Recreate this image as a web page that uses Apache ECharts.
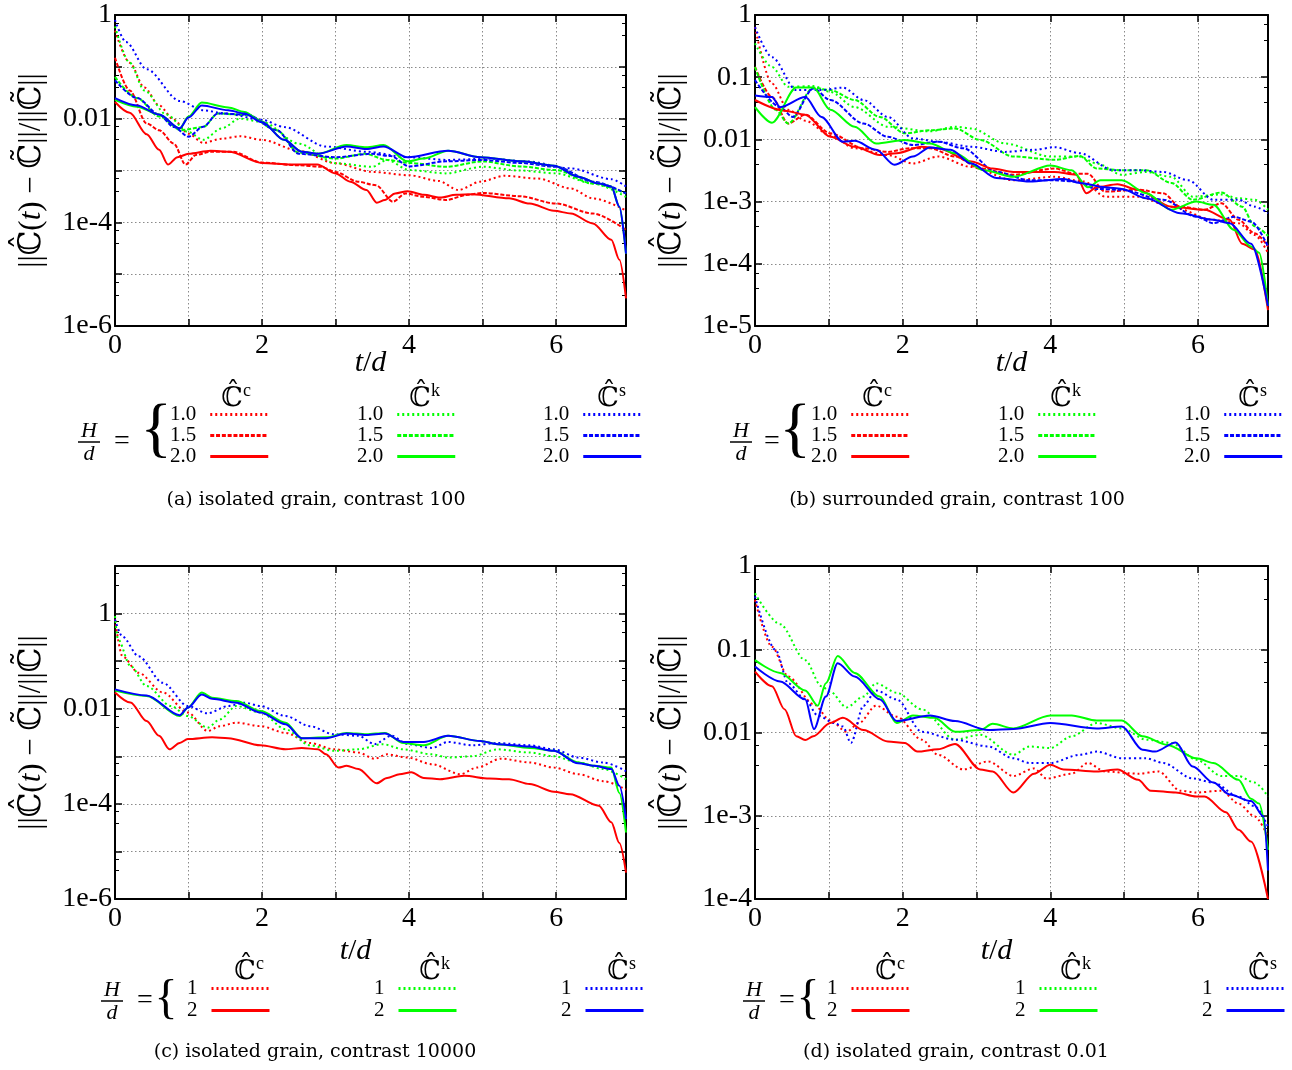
<!DOCTYPE html>
<html>
<head>
<meta charset="utf-8">
<script src="https://cdn.jsdelivr.net/npm/echarts@6/dist/echarts.min.js"></script>
<style>
html, body { margin: 0; padding: 0; background: #fff; }
#chart { width: 1292px; height: 1070px; }
</style>
</head>
<body>
<div id="chart"></div>
<script>
// ---- data: [t/d, relative error] ----
// (a) isolated grain, contrast 100
var a_c10 = [[0,0.5],[0.2,0.12],[0.4,0.04],[0.6,0.018],[0.8,0.0095],[1.0,0.0051],[1.2,0.0034],[1.45,0.0041],[1.7,0.0046],[2.0,0.0039],[2.5,0.0024],[3.0,0.00138],[3.5,9.4e-4],[4.0,8.1e-4],[4.4,6.3e-4],[4.67,4.2e-4],[4.97,6.1e-4],[5.3,7.9e-4],[5.75,7e-4],[6.2,4.5e-4],[6.5,2.9e-4],[6.95,1.7e-4]];
var a_c15 = [[0,0.15],[0.2,0.035],[0.43,0.0081],[0.6,0.006],[0.8,0.0033],[0.96,0.0013],[1.1,0.002],[1.3,0.0023],[1.6,0.0023],[2.0,0.00142],[2.5,0.00126],[2.8,0.00118],[3.0,9.4e-4],[3.3,6.1e-4],[3.55,5.2e-4],[3.78,2.5e-4],[3.95,3.6e-4],[4.2,3.1e-4],[4.5,2.7e-4],[4.8,3.4e-4],[5.0,3.7e-4],[5.5,3.2e-4],[6.0,2.3e-4],[6.5,1.48e-4],[6.95,7.1e-5]];
var a_c20 = [[0,0.021],[0.2,0.013],[0.43,0.005],[0.6,0.0025],[0.72,0.0013],[0.85,0.0018],[1.0,0.0021],[1.3,0.0024],[1.55,0.0023],[2.0,0.0014],[2.4,0.0013],[2.75,0.0013],[3.0,8.8e-4],[3.2,6.1e-4],[3.42,4.2e-4],[3.56,2.4e-4],[3.67,2.7e-4],[3.81,3.6e-4],[3.98,4.0e-4],[4.2,3.4e-4],[4.42,3.0e-4],[4.64,3.4e-4],[4.86,3.5e-4],[5.36,2.9e-4],[5.64,2.3e-4],[5.97,1.67e-4],[6.2,1.48e-4],[6.5,9.5e-5],[6.75,4.6e-5],[6.86,1.9e-5],[6.95,3.4e-6]];
var a_k10 = [[0,0.6],[0.2,0.12],[0.4,0.035],[0.7,0.012],[1.0,0.0055],[1.2,0.0039],[1.45,0.0065],[1.7,0.01],[2.0,0.0087],[2.5,0.0033],[3.0,0.00138],[3.5,0.00118],[3.7,0.0016],[4.0,0.00102],[4.5,8.8e-4],[5.0,0.00118],[5.5,0.001],[6.0,8.8e-4],[6.5,5.6e-4],[6.95,3.1e-4]];
var a_k15 = [[0,0.064],[0.3,0.025],[0.6,0.011],[0.9,0.006],[1.2,0.0069],[1.4,0.0126],[1.8,0.0117],[2.2,0.006],[2.5,0.0022],[3.0,0.0017],[3.4,0.0021],[3.7,0.0016],[4.0,0.0014],[4.5,0.00118],[5.0,0.0015],[5.5,0.0012],[6.0,0.00102],[6.5,5.6e-4],[6.95,3.6e-4]];
var a_k20 = [[0,0.023],[0.3,0.017],[0.6,0.012],[0.88,0.0065],[1.0,0.011],[1.18,0.0205],[1.54,0.0165],[1.76,0.0135],[2.0,0.0087],[2.3,0.0039],[2.54,0.0023],[2.76,0.0021],[3.15,0.0031],[3.42,0.0028],[3.65,0.0031],[3.98,0.0015],[4.2,0.0017],[4.53,0.0024],[4.97,0.0018],[5.53,0.0015],[5.97,0.00124],[6.3,7.6e-4],[6.58,5.6e-4],[6.75,4.9e-4],[6.86,2e-4],[6.95,2.5e-5]];
var a_s10 = [[0,0.8],[0.15,0.3],[0.43,0.09],[0.88,0.022],[1.2,0.0145],[1.5,0.0126],[2.0,0.0095],[2.3,0.0069],[2.87,0.0029],[3.42,0.0023],[3.98,0.0018],[4.53,0.0016],[5.08,0.0017],[5.6,0.0015],[6.2,0.0011],[6.75,6.8e-4],[6.95,4.9e-4]];
var a_s15 = [[0,0.055],[0.3,0.025],[0.6,0.012],[0.8,0.0069],[1.0,0.0045],[1.2,0.007],[1.4,0.0126],[1.8,0.012],[2.2,0.006],[2.5,0.0021],[3.0,0.0018],[3.5,0.0021],[3.75,0.0019],[4.0,0.0012],[4.5,0.0015],[5.0,0.0016],[5.5,0.0014],[6.0,0.00118],[6.5,6.1e-4],[6.95,3.6e-4]];
var a_s20 = [[0,0.025],[0.3,0.018],[0.6,0.012],[0.88,0.0065],[1.0,0.0105],[1.18,0.018],[1.54,0.0145],[1.76,0.0126],[2.0,0.0085],[2.3,0.0039],[2.54,0.0023],[2.76,0.0021],[3.15,0.0029],[3.42,0.0026],[3.65,0.0029],[3.98,0.0018],[4.53,0.0024],[4.97,0.0018],[5.53,0.0015],[5.97,0.00124],[6.3,7.6e-4],[6.58,5.6e-4],[6.75,4.9e-4],[6.86,2e-4],[6.95,2.5e-5]];

// (b) surrounded grain, contrast 100
var b_c10 = [[0,0.64],[0.23,0.079],[0.45,0.03],[0.68,0.02],[1.02,0.0117],[1.35,0.0072],[1.8,0.0056],[2.14,0.0041],[2.48,0.0053],[2.93,0.0036],[3.5,0.0022],[4.06,0.0025],[4.46,0.0021],[4.74,0.0012],[5.19,0.0012],[5.64,8.3e-4],[6.21,5.1e-4],[6.55,4.5e-4],[6.77,2.9e-4],[6.95,1.5e-4]];
var b_c15 = [[0,0.146],[0.23,0.048],[0.45,0.018],[0.68,0.025],[1.02,0.0125],[1.47,0.0072],[1.8,0.0063],[2.09,0.0072],[2.37,0.0072],[2.71,0.0053],[3.05,0.0034],[3.5,0.0027],[4.06,0.0034],[4.35,0.0028],[4.51,0.0028],[4.74,0.00145],[5.19,0.00155],[5.53,0.00136],[5.76,8.3e-4],[6.09,7.4e-4],[6.32,9.4e-4],[6.55,5.1e-4],[6.77,3.1e-4],[6.95,1.9e-4]];
var b_c20 = [[0,0.043],[0.4,0.029],[0.68,0.025],[1.02,0.011],[1.35,0.0076],[1.69,0.0056],[1.92,0.006],[2.26,0.0076],[2.48,0.0072],[2.93,0.0044],[3.22,0.0034],[3.5,0.003],[4.06,0.003],[4.35,0.0027],[4.49,0.00136],[4.63,0.0017],[4.91,0.0019],[5.19,0.00155],[5.64,8.3e-4],[6.09,7.4e-4],[6.43,5.1e-4],[6.6,2.1e-4],[6.77,1.7e-4],[6.95,1.8e-5]];
var b_k10 = [[0,0.35],[0.23,0.146],[0.45,0.07],[0.79,0.072],[1.02,0.058],[1.35,0.033],[1.8,0.016],[2.37,0.0135],[2.71,0.016],[2.93,0.015],[3.39,0.0086],[4.0,0.0053],[4.4,0.0053],[4.63,0.0041],[4.97,0.0027],[5.3,0.003],[5.64,0.0025],[5.93,0.0012],[6.32,0.0013],[6.55,0.00113],[6.77,0.00107],[6.95,7.4e-4]];
var b_k15 = [[0,0.146],[0.28,0.03],[0.45,0.018],[0.79,0.068],[1.02,0.062],[1.35,0.043],[1.69,0.023],[2.03,0.0125],[2.37,0.014],[2.71,0.015],[3.05,0.0098],[3.5,0.0053],[4.06,0.0047],[4.4,0.0054],[4.63,0.0034],[4.97,0.0032],[5.3,0.0032],[5.64,0.002],[5.93,0.00107],[6.32,0.0014],[6.6,8.3e-4],[6.77,4e-4],[6.95,2.8e-4]];
var b_k20 = [[0,0.033],[0.23,0.0186],[0.56,0.068],[0.79,0.068],[1.02,0.03],[1.35,0.016],[1.64,0.0086],[2.03,0.0098],[2.37,0.0086],[2.71,0.006],[3.1,0.0032],[3.5,0.0025],[4.0,0.0038],[4.29,0.0032],[4.51,0.0017],[4.68,0.0022],[4.97,0.0022],[5.3,0.00136],[5.64,7.4e-4],[5.98,0.001],[6.21,8.9e-4],[6.49,3.5e-4],[6.72,1.9e-4],[6.83,1.5e-4],[6.95,2.1e-5]];
var b_s10 = [[0,0.64],[0.23,0.21],[0.56,0.062],[0.9,0.062],[1.19,0.068],[1.47,0.043],[1.8,0.023],[2.14,0.0104],[2.48,0.0092],[2.93,0.0076],[3.39,0.0063],[3.78,0.0068],[4.06,0.0075],[4.4,0.006],[4.85,0.0032],[5.19,0.0032],[5.53,0.003],[5.87,0.0022],[6.21,0.00107],[6.55,0.00107],[6.77,8.3e-4],[6.95,6.5e-4]];
var b_s15 = [[0,0.09],[0.34,0.033],[0.51,0.023],[0.79,0.066],[1.02,0.043],[1.47,0.018],[1.8,0.011],[2.14,0.0081],[2.48,0.0092],[2.82,0.0072],[3.27,0.003],[3.72,0.0022],[4.06,0.0022],[4.35,0.0021],[4.63,0.0016],[4.97,0.00155],[5.53,0.00107],[5.98,5.7e-4],[6.21,4.5e-4],[6.49,5.7e-4],[6.72,4.8e-4],[6.95,1.9e-4]];
var b_s20 = [[0,0.051],[0.23,0.048],[0.34,0.033],[0.68,0.048],[0.9,0.023],[1.19,0.0092],[1.35,0.0095],[1.64,0.0068],[1.89,0.0039],[2.14,0.0053],[2.37,0.0074],[2.65,0.0068],[2.93,0.0041],[3.27,0.0024],[3.72,0.0021],[4.18,0.0023],[4.4,0.002],[4.74,0.0017],[4.97,0.0016],[5.3,0.00113],[5.76,6.5e-4],[6.21,5.1e-4],[6.43,4.5e-4],[6.72,2.1e-4],[6.95,2.1e-5]];

// (c) isolated grain, contrast 10000
var c_c1 = [[0,0.75],[0.1,0.127],[0.32,0.057],[0.65,0.022],[0.99,0.0083],[1.26,0.0034],[1.43,0.0043],[1.65,0.0051],[1.98,0.0043],[2.32,0.0031],[2.65,0.0019],[2.98,0.0014],[3.31,0.0012],[3.53,8.9e-4],[3.7,0.0011],[3.98,9.4e-4],[4.31,6.8e-4],[4.7,4.2e-4],[4.92,5.8e-4],[5.25,8.9e-4],[5.64,7.4e-4],[5.97,5.8e-4],[6.3,4.2e-4],[6.64,3.0e-4],[6.95,2.0e-4]];
var c_c2 = [[0,0.022],[0.21,0.0135],[0.43,0.0055],[0.6,0.0027],[0.74,0.0014],[0.88,0.0019],[0.99,0.0023],[1.32,0.0025],[1.54,0.0024],[1.98,0.0017],[2.32,0.0014],[2.54,0.0015],[2.76,0.0014],[2.87,0.0011],[3.04,5.8e-4],[3.15,6.3e-4],[3.31,5.4e-4],[3.56,2.7e-4],[3.7,3.5e-4],[3.87,4.2e-4],[4.03,4.6e-4],[4.2,3.5e-4],[4.42,3.3e-4],[4.75,3.9e-4],[5.09,3.4e-4],[5.36,3.3e-4],[5.64,2.6e-4],[5.97,1.8e-4],[6.19,1.6e-4],[6.58,9.1e-5],[6.75,4.1e-5],[6.86,1.5e-5],[6.95,3.6e-6]];
var c_k1 = [[0,0.88],[0.04,0.29],[0.21,0.079],[0.43,0.03],[0.76,0.0114],[0.99,0.007],[1.26,0.004],[1.43,0.006],[1.65,0.0114],[1.98,0.0083],[2.32,0.0037],[2.65,0.0017],[2.98,0.0013],[3.31,0.0014],[3.64,0.0018],[3.92,0.0014],[4.31,0.0011],[4.53,9.4e-4],[4.86,0.001],[5.2,0.0014],[5.64,0.0012],[5.97,0.001],[6.3,7.4e-4],[6.64,5.4e-4],[6.95,3.3e-4]];
var c_k2 = [[0,0.024],[0.43,0.0185],[0.88,0.007],[0.99,0.0105],[1.18,0.022],[1.32,0.017],[1.65,0.0145],[1.98,0.0089],[2.32,0.0051],[2.54,0.0024],[2.87,0.0025],[3.15,0.0031],[3.42,0.0029],[3.67,0.0031],[3.92,0.0019],[4.2,0.0017],[4.53,0.0027],[4.97,0.0021],[5.2,0.0018],[5.64,0.0015],[5.97,0.0013],[6.3,7.4e-4],[6.52,6.3e-4],[6.75,5.8e-4],[6.86,1.7e-4],[6.95,2.5e-5]];
var c_s1 = [[0,0.75],[0.1,0.33],[0.32,0.127],[0.65,0.035],[0.99,0.0114],[1.26,0.008],[1.54,0.0114],[1.76,0.0134],[1.98,0.0114],[2.32,0.007],[2.65,0.0043],[2.98,0.0029],[3.31,0.0027],[3.53,0.0018],[3.76,0.0027],[3.98,0.0018],[4.31,0.0015],[4.53,0.002],[4.86,0.0017],[5.2,0.0019],[5.64,0.0017],[5.97,0.0014],[6.3,9.4e-4],[6.64,7.4e-4],[6.95,4.9e-4]];
var c_s2 = [[0,0.0255],[0.43,0.019],[0.88,0.0073],[0.99,0.0105],[1.18,0.02],[1.32,0.0162],[1.65,0.0134],[1.98,0.0083],[2.32,0.0047],[2.54,0.0024],[2.87,0.0024],[3.15,0.003],[3.42,0.0028],[3.67,0.003],[3.92,0.002],[4.2,0.002],[4.53,0.0027],[4.97,0.0021],[5.2,0.0018],[5.64,0.0016],[5.97,0.0013],[6.3,7.1e-4],[6.52,6.3e-4],[6.75,5.4e-4],[6.86,2.4e-4],[6.95,4.8e-5]];

// (d) isolated grain, contrast 0.01
var d_c1 = [[0,0.39],[0.23,0.107],[0.45,0.047],[0.79,0.022],[1.02,0.014],[1.24,0.0102],[1.41,0.013],[1.64,0.021],[1.92,0.0155],[2.26,0.0082],[2.48,0.0054],[2.82,0.0036],[3.16,0.0045],[3.5,0.003],[3.78,0.0037],[3.95,0.0028],[4.29,0.0032],[4.51,0.0043],[4.74,0.0034],[5.19,0.0032],[5.47,0.0034],[5.76,0.002],[5.98,0.0019],[6.32,0.002],[6.55,0.0014],[6.77,9.8e-4],[6.95,5.6e-4]];
var d_c2 = [[0,0.054],[0.23,0.036],[0.4,0.019],[0.56,0.009],[0.68,0.0081],[0.79,0.009],[1.02,0.013],[1.19,0.015],[1.47,0.0107],[1.8,0.0078],[2.03,0.0075],[2.2,0.0059],[2.48,0.0063],[2.71,0.0073],[3.05,0.0036],[3.22,0.0034],[3.5,0.0019],[3.78,0.0032],[4.0,0.0041],[4.18,0.0036],[4.63,0.0034],[4.91,0.0036],[5.19,0.0027],[5.36,0.002],[5.7,0.0019],[5.98,0.0017],[6.09,0.0017],[6.38,0.0011],[6.55,6.8e-4],[6.72,4.9e-4],[6.95,1e-4]];
var d_k1 = [[0,0.47],[0.34,0.2],[0.68,0.074],[0.9,0.036],[1.02,0.031],[1.24,0.02],[1.47,0.027],[1.64,0.039],[1.92,0.03],[2.26,0.019],[2.71,0.0082],[3.05,0.0094],[3.5,0.0054],[3.72,0.0068],[4.0,0.0065],[4.29,0.009],[4.63,0.013],[4.97,0.0112],[5.3,0.0082],[5.64,0.0075],[5.98,0.0047],[6.32,0.003],[6.55,0.003],[6.77,0.0025],[6.95,0.0017]];
var d_k2 = [[0,0.074],[0.34,0.052],[0.68,0.032],[0.85,0.021],[0.96,0.039],[1.12,0.083],[1.35,0.052],[1.69,0.027],[1.92,0.013],[2.14,0.016],[2.43,0.015],[2.71,0.0102],[3.05,0.0107],[3.22,0.0127],[3.5,0.0112],[4.0,0.016],[4.29,0.016],[4.63,0.0139],[4.97,0.0139],[5.25,0.009],[5.59,0.0071],[5.98,0.0049],[6.21,0.0043],[6.55,0.0027],[6.72,0.0016],[6.83,0.0014],[6.95,3.9e-4]];
var d_s1 = [[0,0.43],[0.28,0.098],[0.45,0.039],[0.68,0.025],[0.85,0.016],[1.07,0.013],[1.19,0.0118],[1.3,0.0075],[1.47,0.021],[1.64,0.032],[1.92,0.025],[2.26,0.0102],[2.71,0.0082],[3.16,0.0068],[3.5,0.0049],[3.72,0.0043],[4.0,0.0043],[4.4,0.0054],[4.63,0.0059],[4.97,0.0049],[5.3,0.0049],[5.53,0.0043],[5.93,0.0028],[6.21,0.0025],[6.55,0.0017],[6.77,0.0013],[6.95,7.4e-4]];
var d_s2 = [[0,0.062],[0.34,0.041],[0.68,0.025],[0.8,0.011],[0.96,0.027],[1.12,0.068],[1.35,0.047],[1.69,0.025],[1.92,0.0137],[2.37,0.016],[2.71,0.0137],[3.16,0.0107],[3.5,0.011],[4.0,0.013],[4.63,0.0112],[4.97,0.0118],[5.25,0.0062],[5.42,0.0059],[5.7,0.0076],[5.93,0.0039],[6.21,0.0025],[6.43,0.0018],[6.72,0.0015],[6.89,0.00098],[6.95,2.2e-4]];

var hLevels3 = ['1.0', '1.5', '2.0'];
var hLevels2 = ['1', '2'];
var captions = ['(a) isolated grain, contrast 100', '(b) surrounded grain, contrast 100',
                '(c) isolated grain, contrast 10000', '(d) isolated grain, contrast 0.01'];

// ---- styling ----
var SERIF = "'Liberation Serif', 'DejaVu Serif', serif";
var COLORS = { c: '#ff0000', k: '#00ff00', s: '#0000ff' };
var DOT = [2, 3], DASH = [4, 1.8];

var panels = [
    { id: 'a', grid: { left: 115, top: 15, width: 511, height: 311 }, ymin: 1e-6, ymax: 1, every2: true, nameGap: 22, namePad: 0,
      levels: hLevels3, lines: { c: [a_c10, a_c15, a_c20], k: [a_k10, a_k15, a_k20], s: [a_s10, a_s15, a_s20] } },
    { id: 'b', grid: { left: 755, top: 15, width: 513, height: 311 }, ymin: 1e-5, ymax: 1, every2: false, nameGap: 22, namePad: 0,
      levels: hLevels3, lines: { c: [b_c10, b_c15, b_c20], k: [b_k10, b_k15, b_k20], s: [b_s10, b_s15, b_s20] } },
    { id: 'c', grid: { left: 115, top: 566, width: 511, height: 333 }, ymin: 1e-6, ymax: 10, every2: true, nameGap: 37, namePad: 30,
      levels: hLevels2, lines: { c: [c_c1, c_c2], k: [c_k1, c_k2], s: [c_s1, c_s2] } },
    { id: 'd', grid: { left: 755, top: 566, width: 513, height: 333 }, ymin: 1e-4, ymax: 1, every2: false, nameGap: 37, namePad: 30,
      levels: hLevels2, lines: { c: [d_c1, d_c2], k: [d_k1, d_k2], s: [d_s1, d_s2] } }
];

// legend / annotation placement per panel
var legendPos = [
    { top: 404, gap: 0, groups: [170, 357, 543], hdr: [232, 420, 608], hdrY: 399, frac: 89, eq: 122, brace: 156, braceY: 432, braceSize: 66, fracY: 442, capX: 316, capY: 500 },
    { top: 404, gap: 0, groups: [811, 998, 1184], hdr: [873, 1061, 1249], hdrY: 399, frac: 741, eq: 772, brace: 795, braceY: 432, braceSize: 66, fracY: 442, capX: 957, capY: 500 },
    { top: 978, gap: 1, groups: [187, 374, 561], hdr: [245, 430, 618], hdrY: 972, frac: 112, eq: 145, brace: 166, braceY: 1000, braceSize: 48, fracY: 1001, capX: 315, capY: 1052 },
    { top: 978, gap: 1, groups: [827, 1015, 1202], hdr: [886, 1071, 1259], hdrY: 972, frac: 754, eq: 787, brace: 808, braceY: 1000, braceSize: 48, fracY: 1001, capX: 956, capY: 1052 }
];

function yLabel(every2) {
    return function (v) {
        var e = Math.round(Math.log(v) / Math.LN10);
        if (every2 && e % 2 !== 0) return '';
        if (e === 0) return '1';
        if (e === 1) return '10';
        if (e >= -2) return Math.pow(10, e).toFixed(-e);
        return '1e' + e;
    };
}

var grids = [], xAxes = [], yAxes = [], series = [], legends = [], graphics = [];
var tickStyle = { color: '#000', width: 1.5 };
var splitStyle = { show: true, lineStyle: { color: '#8a8a8a', width: 1, type: [1.5, 2.5] } };

panels.forEach(function (p, i) {
    grids.push(p.grid);
    var lp = legendPos[i];
    // bottom and top x axes
    xAxes.push({
        type: 'value', gridIndex: i, position: 'bottom', min: 0, max: 6.95, interval: 1,
        axisLine: { show: true, onZero: false, lineStyle: { color: '#000', width: 2 } },
        axisTick: { show: true, inside: true, length: 7, lineStyle: tickStyle },
        axisLabel: { margin: 6, color: '#000', fontFamily: SERIF, fontSize: 28,
            formatter: function (v) { return (v % 2 === 0 && v <= 6) ? String(v) : ''; } },
        splitLine: splitStyle,
        name: '{i|t}/{i|d}', nameLocation: 'middle', nameGap: p.nameGap, nameMoveOverlap: false,
        nameTextStyle: { color: '#000', fontFamily: SERIF, fontSize: 30, padding: [0, p.namePad, 0, 0],
            rich: { i: { fontFamily: SERIF, fontSize: 30, fontStyle: 'italic', color: '#000' } } }
    });
    xAxes.push({
        type: 'value', gridIndex: i, position: 'top', min: 0, max: 6.95, interval: 1,
        axisLine: { show: true, onZero: false, lineStyle: { color: '#000', width: 2 } },
        axisTick: { show: true, inside: true, length: 7, lineStyle: tickStyle },
        axisLabel: { show: false }, splitLine: { show: false }
    });
    yAxes.push({
        type: 'log', logBase: 10, gridIndex: i, position: 'left', min: p.ymin, max: p.ymax,
        axisLine: { show: true, onZero: false, lineStyle: { color: '#000', width: 2 } },
        axisTick: { show: true, inside: true, length: 7, lineStyle: tickStyle },
        minorTick: { show: true, splitNumber: 3, length: 4, lineStyle: { color: '#000', width: 1 } },
        axisLabel: { margin: 3, color: '#000', fontFamily: SERIF, fontSize: 28, formatter: yLabel(p.every2) },
        splitLine: splitStyle,
        name: '||ℂ\u0302({i|t}) \u2212 ℂ\u0303||/||ℂ\u0303||', nameLocation: 'middle', nameGap: 68, nameMoveOverlap: false,
        nameTextStyle: { color: '#000', fontFamily: SERIF, fontSize: 31,
            rich: { i: { fontFamily: SERIF, fontSize: 31, fontStyle: 'italic', color: '#000' } } }
    });
    yAxes.push({
        type: 'log', logBase: 10, gridIndex: i, position: 'right', min: p.ymin, max: p.ymax,
        axisLine: { show: true, onZero: false, lineStyle: { color: '#000', width: 2 } },
        axisTick: { show: true, inside: true, length: 7, lineStyle: tickStyle },
        minorTick: { show: true, splitNumber: 3, length: 4, lineStyle: { color: '#000', width: 1 } },
        axisLabel: { show: false }, splitLine: { show: false }
    });

    ['c', 'k', 's'].forEach(function (key, g) {
        var names = [];
        p.lines[key].forEach(function (data, j) {
            var n = p.levels.length;
            var dash = j === n - 1 ? 'solid' : (j === 0 ? DOT : DASH);
            var name = p.id + ' ' + key + ' ' + p.levels[j];
            names.push(name);
            series.push({
                name: name, type: 'line', xAxisIndex: 2 * i, yAxisIndex: 2 * i,
                data: data, symbol: 'none', smooth: 0.3, smoothMonotone: 'x',
                lineStyle: { color: COLORS[key], width: 2, type: dash },
                itemStyle: { color: COLORS[key] }, z: j === n - 1 ? 4 : 3
            });
        });
        legends.push({
            orient: 'vertical', left: lp.groups[g], top: lp.top, align: 'right', padding: 0,
            itemWidth: 58, itemHeight: 8, itemGap: lp.gap, selectedMode: false,
            textStyle: { fontFamily: SERIF, fontSize: 21, color: '#000', lineHeight: 21, padding: [0, 9, 0, 0] },
            lineStyle: { width: 3 },
            itemStyle: { opacity: 0 },
            data: names,
            formatter: function (nm) { return nm.split(' ')[2]; }
        });
        // legend header: hat-C with superscript
        graphics.push({ type: 'text', x: lp.hdr[g], y: lp.hdrY,
            style: { text: 'ℂ\u0302', fontFamily: SERIF, fontSize: 27, fill: '#000', align: 'center', verticalAlign: 'middle' } });
        graphics.push({ type: 'text', x: lp.hdr[g] + 11, y: lp.hdrY - 8,
            style: { text: key, fontFamily: SERIF, fontSize: 18, fill: '#000', align: 'left', verticalAlign: 'middle' } });
    });

    // H/d = {
    graphics.push({ type: 'text', x: lp.frac, y: lp.fracY - 11,
        style: { text: 'H', fontFamily: SERIF, fontSize: 22, fontStyle: 'italic', fill: '#000', align: 'center', verticalAlign: 'middle' } });
    graphics.push({ type: 'line', shape: { x1: lp.frac - 11, y1: lp.fracY, x2: lp.frac + 11, y2: lp.fracY },
        style: { stroke: '#000', lineWidth: 1.5 } });
    graphics.push({ type: 'text', x: lp.frac, y: lp.fracY + 12,
        style: { text: 'd', fontFamily: SERIF, fontSize: 22, fontStyle: 'italic', fill: '#000', align: 'center', verticalAlign: 'middle' } });
    graphics.push({ type: 'text', x: lp.eq, y: lp.fracY,
        style: { text: '=', fontFamily: SERIF, fontSize: 28, fill: '#000', align: 'center', verticalAlign: 'middle' } });
    graphics.push({ type: 'text', x: lp.brace, y: lp.braceY,
        style: { text: '{', fontFamily: SERIF, fontSize: lp.braceSize, fill: '#000', align: 'center', verticalAlign: 'middle' } });
    graphics.push({ type: 'text', x: lp.capX, y: lp.capY,
        style: { text: captions[i], fontFamily: "'DejaVu Serif', serif", fontSize: 19, fill: '#000', align: 'center', verticalAlign: 'middle' } });
});

var myChart = echarts.init(document.getElementById('chart'), null, { renderer: 'canvas' });
myChart.setOption({
    backgroundColor: '#fff',
    animation: false,
    grid: grids,
    xAxis: xAxes,
    yAxis: yAxes,
    legend: legends,
    series: series,
    graphic: graphics
});
</script>
</body>
</html>
